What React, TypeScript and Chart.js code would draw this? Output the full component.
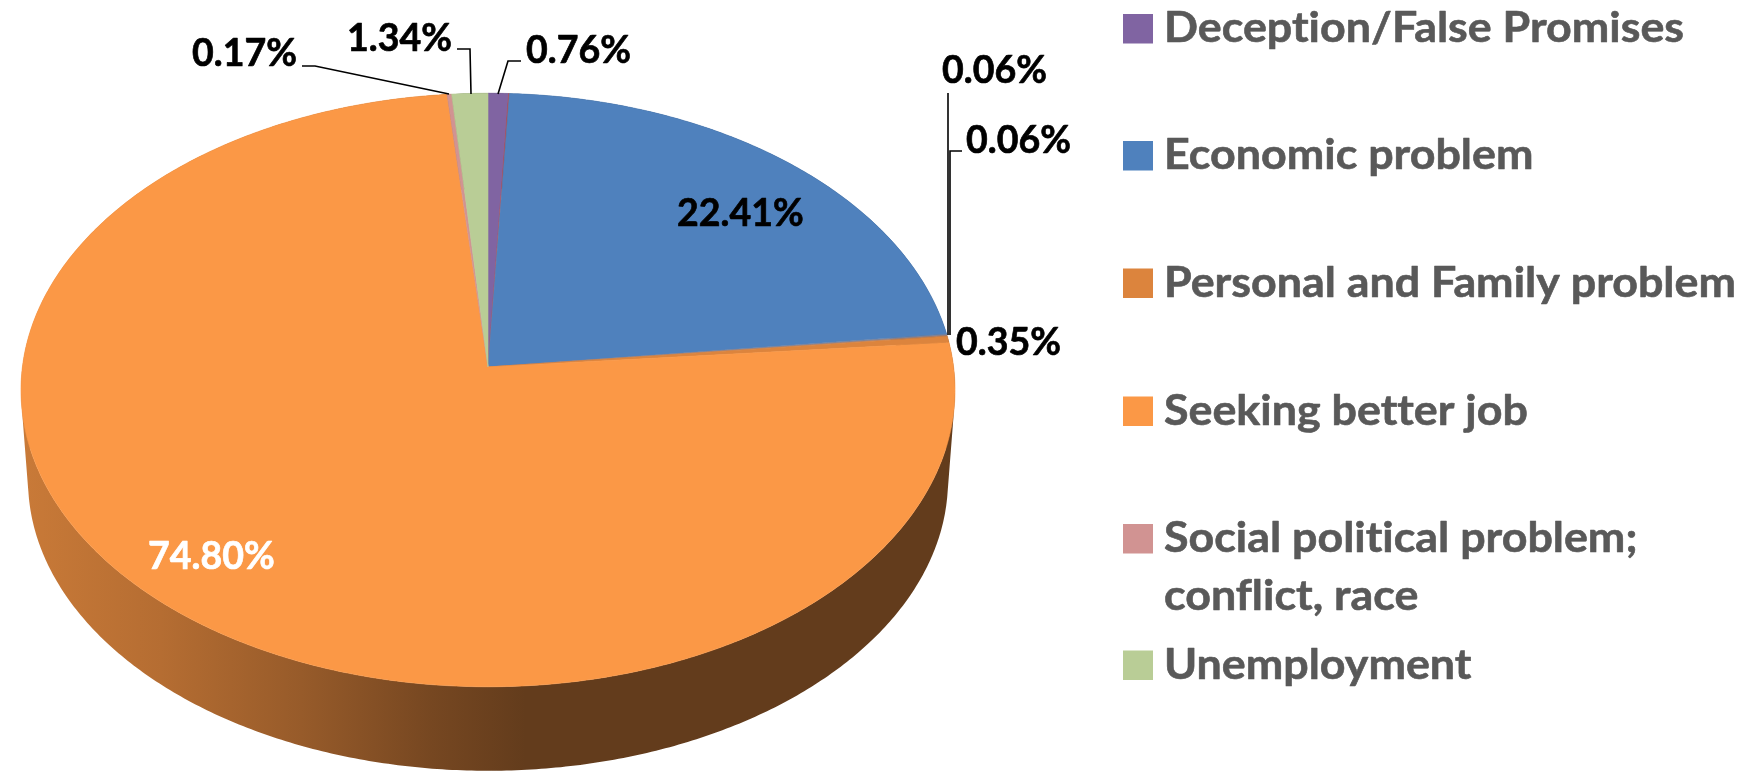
import React, { useEffect, useRef } from "react";
import { Chart, registerables } from "chart.js";

Chart.register(...registerables);

// ---- data ----
const categories = [
  "Deception/False Promises",
  "Other (unlabelled)",
  "Economic problem",
  "Other A",
  "Other B",
  "Personal and Family problem",
  "Seeking better job",
  "Social political problem; conflict, race",
  "Unemployment",
];
const shares = [0.76, 0.03, 22.41, 0.06, 0.06, 0.35, 74.8, 0.17, 1.34];
const sliceColors = ["#8064A2", "#C0504D", "#4F81BD", "#6F85A8", "#A88070", "#DC843D", "#FB9846", "#D19392", "#B9CD96"];
const legendNames = [
  ["Deception/False Promises"],
  ["Economic problem"],
  ["Personal and Family problem"],
  ["Seeking better job"],
  ["Social political problem;", "conflict, race"],
  ["Unemployment"],
];
const legendColors = ["#8064A2", "#4F81BD", "#DC843D", "#FB9846", "#D19392", "#B9CD96"];
const valueLabels = ["0.76%", "22.41%", "0.06%", "0.06%", "0.35%", "74.80%", "0.17%", "1.34%"];

// ---- layout (not data) ----
const labelBoxes = [
  { x: 526, y: 63, c: "#000" },
  { x: 677, y: 226, c: "#000" },
  { x: 942, y: 83, c: "#000" },
  { x: 966, y: 153, c: "#000" },
  { x: 956, y: 355, c: "#000" },
  { x: 148, y: 569, c: "#fff" },
  { x: 192, y: 66, c: "#000" },
  { x: 347, y: 51, c: "#000" },
];
const leaders = [
  [[449, 94], [315, 66], [302, 66]],
  [[471, 94], [470, 49], [457, 49]],
  [[498, 94], [508, 61], [521, 61]],
  [[948, 335], [948, 93]],
  [[950, 335], [950, 151], [962, 151]],
];
const legendRowY = [43, 170, 297.5, 425.5, 553, 679.5];
const TOP = { cx: 488, cy: 367, a: 465.6, b: 295, k: -0.0775 };
const BOT = { cx: 488, cy: 480, a: 460, b: 291 };

const topPoint = (angle: number) => {
  const t = angle + Math.PI / 2;
  const u = Math.sin(t);
  const v = -Math.cos(t);
  const w = 1 + TOP.k * v;
  return [TOP.cx + (TOP.a * u) / w, TOP.cy + (TOP.b * v) / w];
};
const botPoint = (angle: number) => {
  const t = angle + Math.PI / 2;
  const u = Math.sin(t);
  const v = -Math.cos(t);
  const w = 1 + TOP.k * v;
  const pu = (u / w) * (TOP.a / 467);
  const pv = ((v / w) * TOP.b + TOP.cy - 390) / 297;
  return [BOT.cx + BOT.a * pu, BOT.cy + BOT.b * pv];
};
const shade = (hex: string, f: number) => {
  const n = parseInt(hex.slice(1), 16);
  return `rgb(${((n >> 16) & 255) * f},${((n >> 8) & 255) * f},${(n & 255) * f})`;
};
const samples = (s: number, e: number) => {
  const n = Math.max(2, Math.ceil((e - s) / 0.01));
  return Array.from({ length: n + 1 }, (_, i) => s + ((e - s) * i) / n);
};

const drawText = (ctx: any, t: string, x: number, y: number, sx: number, heavy: number) => {
  ctx.save();
  ctx.translate(x, y);
  ctx.scale(sx, 1);
  ctx.fillText(t, 0, 0);
  if (heavy > 0) {
    ctx.lineWidth = heavy;
    ctx.strokeStyle = ctx.fillStyle;
    ctx.lineJoin = "round";
    ctx.strokeText(t, 0, 0);
  }
  ctx.restore();
};

const pie3d = {
  id: "pie3d",
  beforeDatasetDraw(chart: any) {
    const ctx = chart.ctx;
    const arcs = chart.getDatasetMeta(0).data;
    ctx.save();
    arcs.forEach((arc: any, i: number) => {
      const base = sliceColors[i];
      const g = ctx.createLinearGradient(21, 0, 955, 0);
      [[0, 0.8], [0.15, 0.72], [0.3, 0.6], [0.44, 0.47], [0.54, 0.395], [1, 0.395]].forEach(([o, f]) =>
        g.addColorStop(o, shade(base, f))
      );
      const pts = samples(arc.startAngle, arc.endAngle);
      ctx.beginPath();
      for (let j = 0; j < pts.length - 1; j++) {
        const quad = [topPoint(pts[j]), topPoint(pts[j + 1]), botPoint(pts[j + 1]), botPoint(pts[j])];
        let area = 0;
        quad.forEach(([x, y], q) => {
          const [nx, ny] = quad[(q + 1) % 4];
          area += x * ny - nx * y;
        });
        const ordered = area < 0 ? quad.reverse() : quad;
        ordered.forEach(([x, y], q) => (q ? ctx.lineTo(x, y) : ctx.moveTo(x, y)));
        ctx.closePath();
      }
      ctx.fillStyle = g;
      ctx.fill();
    });
    arcs.forEach((arc: any, i: number) => {
      ctx.beginPath();
      ctx.moveTo(TOP.cx, TOP.cy);
      samples(arc.startAngle, arc.endAngle).forEach((a) => {
        const [x, y] = topPoint(a);
        ctx.lineTo(x, y);
      });
      ctx.closePath();
      ctx.fillStyle = sliceColors[i];
      ctx.strokeStyle = sliceColors[i];
      ctx.lineWidth = 0.6;
      ctx.fill();
      ctx.stroke();
    });
    ctx.restore();
    return false;
  },
  afterDraw(chart: any) {
    const ctx = chart.ctx;
    ctx.save();
    ctx.textBaseline = "alphabetic";
    ctx.textAlign = "left";
    ctx.letterSpacing = "0.01px";
    ctx.strokeStyle = "#000";
    ctx.lineWidth = 1.6;
    leaders.forEach((line) => {
      ctx.beginPath();
      line.forEach(([x, y], j) => (j ? ctx.lineTo(x, y) : ctx.moveTo(x, y)));
      ctx.stroke();
    });
    ctx.font = "bold 39px Lato";
    const labelScale = 105 / ctx.measureText("0.17%").width;
    valueLabels.forEach((t, i) => {
      const b = labelBoxes[i];
      ctx.fillStyle = b.c;
      drawText(ctx, t, b.x, b.y, labelScale, 0.7);
    });
    ctx.font = "bold 42px Lato";
    const legendScale = 520 / ctx.measureText(legendNames[0][0]).width;
    legendNames.forEach((lines, i) => {
      const y = legendRowY[i];
      ctx.fillStyle = legendColors[i];
      ctx.fillRect(1123, y - 29, 30, 29.5);
      ctx.fillStyle = "#595959";
      lines.forEach((t, j) => drawText(ctx, t, 1164, y - 1 + j * 58, legendScale, 0.6));
    });
    ctx.restore();
  },
};

export default function App() {
  const ref = useRef<HTMLCanvasElement>(null);
  useEffect(() => {
    const chart = new Chart(ref.current!, {
      type: "pie",
      data: {
        labels: categories,
        datasets: [{ data: shares, backgroundColor: sliceColors, borderWidth: 0 }],
      },
      options: {
        animation: false,
        responsive: false,
        layout: { padding: 0 },
        plugins: { legend: { display: false }, tooltip: { enabled: false } },
      },
      plugins: [pie3d],
    } as any);
    return () => chart.destroy();
  }, []);
  return (
    <div style={{ position: "absolute", left: 0, top: 0, width: 1760, height: 771, background: "#fff", overflow: "hidden" }}>
      <canvas ref={ref} width={1760} height={771} style={{ display: "block" }} />
    </div>
  );
}
